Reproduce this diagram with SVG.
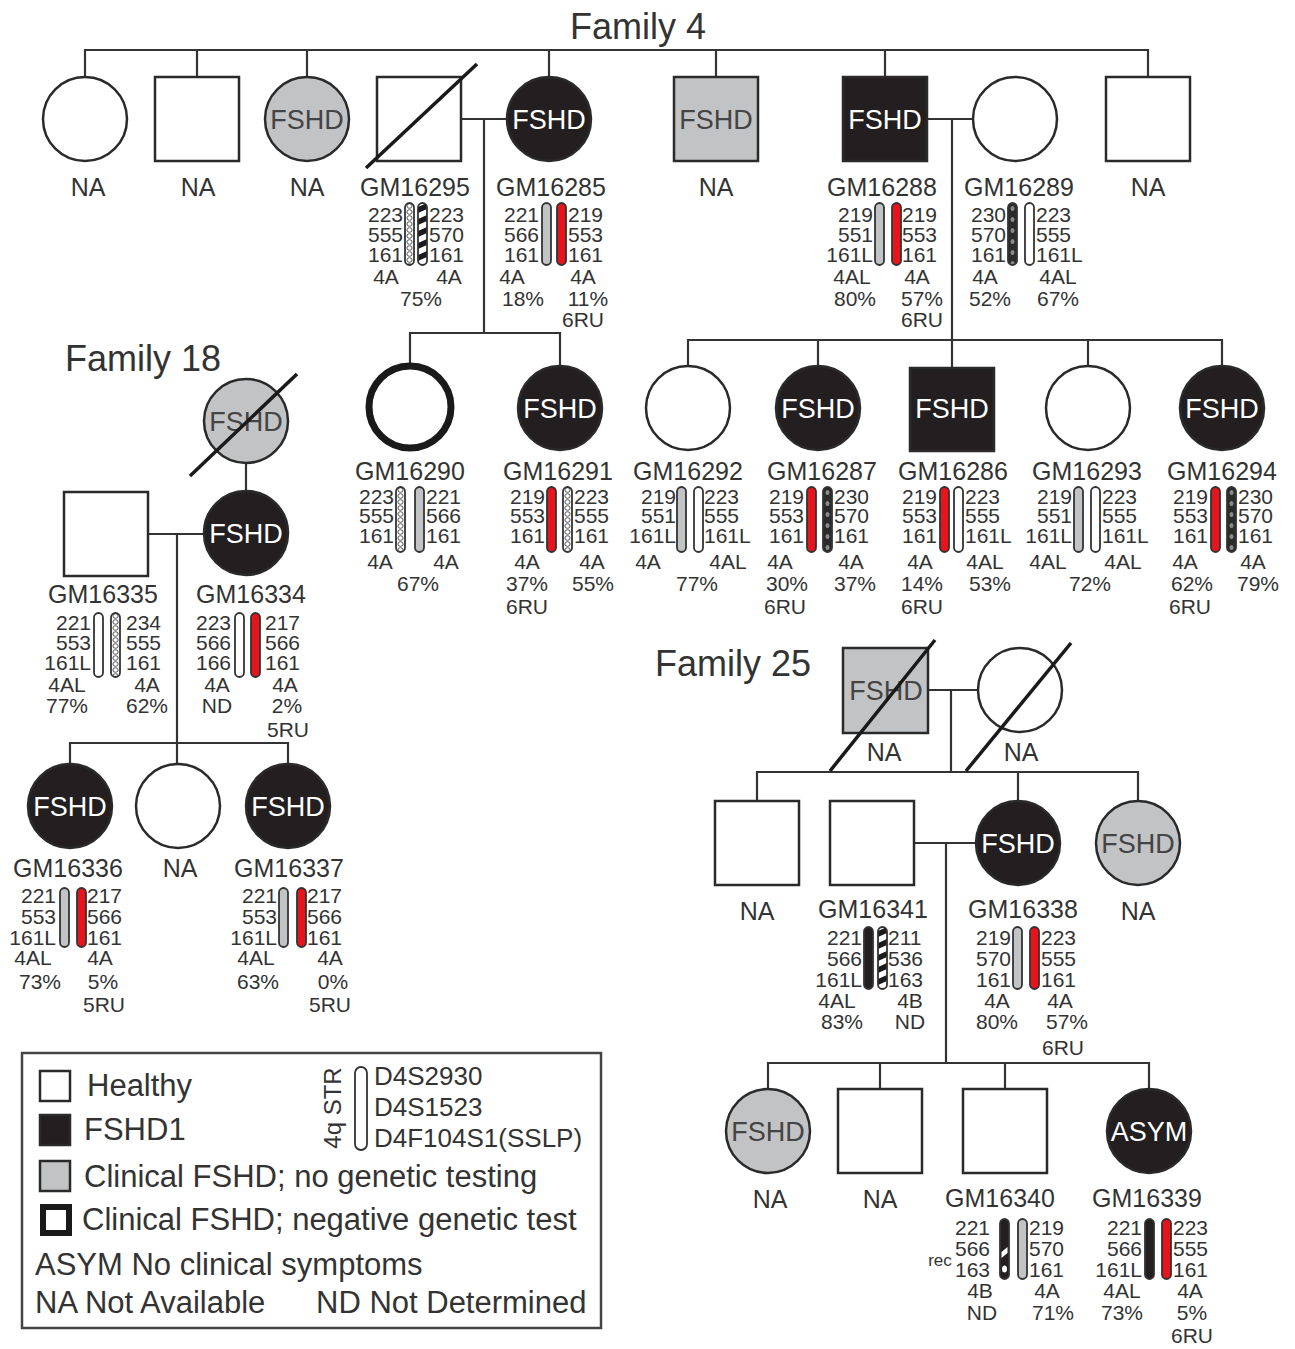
<svg xmlns="http://www.w3.org/2000/svg" width="1295" height="1349" viewBox="0 0 1295 1349">
<style>
.ln{stroke:#333;stroke-width:2.2;fill:none}
.nd{stroke:#2a2a2a;stroke-width:2.5}
.w{fill:#fff}.k{fill:#231f20}.g{fill:#c2c3c5}
.sl{stroke:#1a1a1a;stroke-width:3.5}
.t{font-family:"Liberation Sans",Arial,sans-serif;fill:#333}
.ttl{font-size:36px}
.lab{font-size:25px;text-anchor:middle}
.num{font-size:21px}
.e{text-anchor:end}.s{text-anchor:start}.m{text-anchor:middle}
.in{font-size:27px;text-anchor:middle}
.wt{fill:#fff}.gt{fill:#444}
.bar{stroke:#333;stroke-width:1.8}
.red{fill:#e8141c}
.lg{font-size:31px}
</style>
<defs>
<pattern id="ladder" patternUnits="userSpaceOnUse" width="9" height="6">
<rect width="9" height="6" fill="#fff"/>
<ellipse cx="4.5" cy="3" rx="2.6" ry="2.3" fill="none" stroke="#555" stroke-width="1"/>
</pattern>
<pattern id="dash" patternUnits="userSpaceOnUse" width="9" height="12">
<rect width="9" height="12" fill="#fff"/>
<polygon points="0,4 9,0 9,6 0,10" fill="#1a1a1a"/>
</pattern>
<pattern id="dots" patternUnits="userSpaceOnUse" width="9" height="11">
<rect width="9" height="11" fill="#2b2b2b"/>
<ellipse cx="4.5" cy="5.5" rx="2" ry="2.5" fill="#8a8a8a"/>
</pattern>
</defs>
<rect width="1295" height="1349" fill="#fff"/>

<text class="t ttl" x="638" y="39" text-anchor="middle">Family 4</text>
<text class="t ttl" x="143" y="371" text-anchor="middle">Family 18</text>
<text class="t ttl" x="733" y="676" text-anchor="middle">Family 25</text>

<g id="connectors">
<path class="ln" d="M85,77 V50 H1148 V77 M197,50 V77 M307,50 V77 M549,50 V77 M716,50 V77 M885,50 V77"/>
<path class="ln" d="M461,119 H507 M484,119 V333 M410,365 V333 H560 V366"/>
<path class="ln" d="M927,119 H973 M952,119 V368 M688,366 V340 H1222 V366 M818,340 V366 M1088,340 V366"/>
<path class="ln" d="M246,463 V491 M148,534 H204 M177,534 V764 M70,764 V743 H288 V764"/>
<path class="ln" d="M928,690 H978 M951,690 V772 M757,801 V772 H1138 V801 M1018,772 V801"/>
<path class="ln" d="M914,843 H976 M946,843 V1063 M768,1089 V1063 H1149 V1089 M880,1063 V1089 M1005,1063 V1089"/>
</g>

<!-- Family 4 generation 1 -->
<g id="f4-1">
<circle class="nd w" cx="85" cy="119" r="42"/>
<text class="t lab" x="88" y="196">NA</text>
</g>
<g id="f4-2">
<rect class="nd w" x="155" y="77" width="84" height="84"/>
<text class="t lab" x="198" y="196">NA</text>
</g>
<g id="f4-3">
<circle class="nd g" cx="307" cy="119" r="42"/>
<text class="t in gt" x="307" y="129">FSHD</text>
<text class="t lab" x="307" y="196">NA</text>
</g>
<g id="GM16295">
<rect class="nd w" x="377" y="77" width="84" height="84"/>
<line class="sl" x1="366" y1="168" x2="477" y2="64"/>
<text class="t lab" x="415" y="196">GM16295</text>
<text class="t num e"><tspan x="403" y="222">223</tspan><tspan x="403" y="242">555</tspan><tspan x="403" y="262">161</tspan></text>
<rect class="bar" x="0" y="0" width="9" height="62" rx="4.5" fill="url(#ladder)" transform="translate(405,203)"/>
<rect class="bar" x="0" y="0" width="9" height="62" rx="4.5" fill="url(#dash)" transform="translate(418,203)"/>
<text class="t num s"><tspan x="429" y="222">223</tspan><tspan x="429" y="242">570</tspan><tspan x="429" y="262">161</tspan></text>
<text class="t num m"><tspan x="386" y="284">4A</tspan><tspan x="449" y="284">4A</tspan><tspan x="421" y="306">75%</tspan></text>
</g>
<g id="GM16285">
<circle class="nd k" cx="549" cy="119" r="42"/>
<text class="t in wt" x="549" y="129">FSHD</text>
<text class="t lab" x="551" y="196">GM16285</text>
<text class="t num e"><tspan x="539" y="222">221</tspan><tspan x="539" y="242">566</tspan><tspan x="539" y="262">161</tspan></text>
<rect class="bar g" x="542" y="203" width="9" height="62" rx="4.5"/>
<rect class="bar red" x="557" y="203" width="9" height="62" rx="4.5"/>
<text class="t num s"><tspan x="568" y="222">219</tspan><tspan x="568" y="242">553</tspan><tspan x="568" y="262">161</tspan></text>
<text class="t num m"><tspan x="512" y="284">4A</tspan><tspan x="583" y="284">4A</tspan><tspan x="523" y="306">18%</tspan><tspan x="588" y="306">11%</tspan><tspan x="583" y="327">6RU</tspan></text>
</g>
<g id="f4-6">
<rect class="nd g" x="674" y="77" width="84" height="84"/>
<text class="t in gt" x="716" y="129">FSHD</text>
<text class="t lab" x="716" y="196">NA</text>
</g>
<g id="GM16288">
<rect class="nd k" x="843" y="77" width="84" height="84"/>
<text class="t in wt" x="885" y="129">FSHD</text>
<text class="t lab" x="882" y="196">GM16288</text>
<text class="t num e"><tspan x="873" y="222">219</tspan><tspan x="873" y="242">551</tspan><tspan x="873" y="262">161L</tspan></text>
<rect class="bar g" x="875" y="203" width="9" height="62" rx="4.5"/>
<rect class="bar red" x="892" y="203" width="9" height="62" rx="4.5"/>
<text class="t num s"><tspan x="902" y="222">219</tspan><tspan x="902" y="242">553</tspan><tspan x="902" y="262">161</tspan></text>
<text class="t num m"><tspan x="852" y="284">4AL</tspan><tspan x="917" y="284">4A</tspan><tspan x="855" y="306">80%</tspan><tspan x="922" y="306">57%</tspan><tspan x="922" y="327">6RU</tspan></text>
</g>
<g id="GM16289">
<circle class="nd w" cx="1015" cy="119" r="42"/>
<text class="t lab" x="1019" y="196">GM16289</text>
<text class="t num e"><tspan x="1006" y="222">230</tspan><tspan x="1006" y="242">570</tspan><tspan x="1006" y="262">161</tspan></text>
<rect class="bar" x="0" y="0" width="9" height="62" rx="4.5" fill="url(#dots)" transform="translate(1008,203)"/>
<rect class="bar w" x="1025" y="203" width="9" height="62" rx="4.5"/>
<text class="t num s"><tspan x="1036" y="222">223</tspan><tspan x="1036" y="242">555</tspan><tspan x="1036" y="262">161L</tspan></text>
<text class="t num m"><tspan x="985" y="284">4A</tspan><tspan x="1058" y="284">4AL</tspan><tspan x="990" y="306">52%</tspan><tspan x="1058" y="306">67%</tspan></text>
</g>
<g id="f4-9">
<rect class="nd w" x="1106" y="77" width="84" height="84"/>
<text class="t lab" x="1148" y="196">NA</text>
</g>

<!-- Family 4 generation 2 -->
<g id="GM16290">
<circle cx="410" cy="407" r="41" fill="#fff" stroke="#1a1a1a" stroke-width="7"/>
<text class="t lab" x="410" y="480">GM16290</text>
<text class="t num e"><tspan x="394" y="504">223</tspan><tspan x="394" y="523">555</tspan><tspan x="394" y="543">161</tspan></text>
<rect class="bar" x="0" y="0" width="9" height="65" rx="4.5" fill="url(#ladder)" transform="translate(396,487)"/>
<rect class="bar g" x="415" y="487" width="9" height="65" rx="4.5"/>
<text class="t num s"><tspan x="426" y="504">221</tspan><tspan x="426" y="523">566</tspan><tspan x="426" y="543">161</tspan></text>
<text class="t num m"><tspan x="380" y="569">4A</tspan><tspan x="446" y="569">4A</tspan><tspan x="418" y="591">67%</tspan></text>
</g>
<g id="GM16291">
<circle class="nd k" cx="560" cy="408" r="42"/>
<text class="t in wt" x="560" y="418">FSHD</text>
<text class="t lab" x="558" y="480">GM16291</text>
<text class="t num e"><tspan x="545" y="504">219</tspan><tspan x="545" y="523">553</tspan><tspan x="545" y="543">161</tspan></text>
<rect class="bar red" x="547" y="487" width="9" height="65" rx="4.5"/>
<rect class="bar" x="0" y="0" width="9" height="65" rx="4.5" fill="url(#ladder)" transform="translate(563,487)"/>
<text class="t num s"><tspan x="574" y="504">223</tspan><tspan x="574" y="523">555</tspan><tspan x="574" y="543">161</tspan></text>
<text class="t num m"><tspan x="527" y="569">4A</tspan><tspan x="592" y="569">4A</tspan><tspan x="527" y="591">37%</tspan><tspan x="593" y="591">55%</tspan><tspan x="527" y="614">6RU</tspan></text>
</g>
<g id="GM16292">
<circle class="nd w" cx="688" cy="408" r="42"/>
<text class="t lab" x="688" y="480">GM16292</text>
<text class="t num e"><tspan x="676" y="504">219</tspan><tspan x="676" y="523">551</tspan><tspan x="676" y="543">161L</tspan></text>
<rect class="bar g" x="677" y="487" width="9" height="65" rx="4.5"/>
<rect class="bar w" x="694" y="487" width="9" height="65" rx="4.5"/>
<text class="t num s"><tspan x="704" y="504">223</tspan><tspan x="704" y="523">555</tspan><tspan x="704" y="543">161L</tspan></text>
<text class="t num m"><tspan x="648" y="569">4A</tspan><tspan x="728" y="569">4AL</tspan><tspan x="697" y="591">77%</tspan></text>
</g>
<g id="GM16287">
<circle class="nd k" cx="818" cy="408" r="42"/>
<text class="t in wt" x="818" y="418">FSHD</text>
<text class="t lab" x="822" y="480">GM16287</text>
<text class="t num e"><tspan x="804" y="504">219</tspan><tspan x="804" y="523">553</tspan><tspan x="804" y="543">161</tspan></text>
<rect class="bar red" x="807" y="487" width="9" height="65" rx="4.5"/>
<rect class="bar" x="0" y="0" width="9" height="65" rx="4.5" fill="url(#dots)" transform="translate(823,487)"/>
<text class="t num s"><tspan x="834" y="504">230</tspan><tspan x="834" y="523">570</tspan><tspan x="834" y="543">161</tspan></text>
<text class="t num m"><tspan x="780" y="569">4A</tspan><tspan x="851" y="569">4A</tspan><tspan x="787" y="591">30%</tspan><tspan x="855" y="591">37%</tspan><tspan x="785" y="614">6RU</tspan></text>
</g>
<g id="GM16286">
<rect class="nd k" x="910" y="368" width="84" height="83"/>
<text class="t in wt" x="952" y="418">FSHD</text>
<text class="t lab" x="953" y="480">GM16286</text>
<text class="t num e"><tspan x="937" y="504">219</tspan><tspan x="937" y="523">553</tspan><tspan x="937" y="543">161</tspan></text>
<rect class="bar red" x="940" y="487" width="9" height="65" rx="4.5"/>
<rect class="bar w" x="954" y="487" width="9" height="65" rx="4.5"/>
<text class="t num s"><tspan x="965" y="504">223</tspan><tspan x="965" y="523">555</tspan><tspan x="965" y="543">161L</tspan></text>
<text class="t num m"><tspan x="920" y="569">4A</tspan><tspan x="985" y="569">4AL</tspan><tspan x="922" y="591">14%</tspan><tspan x="990" y="591">53%</tspan><tspan x="922" y="614">6RU</tspan></text>
</g>
<g id="GM16293">
<circle class="nd w" cx="1088" cy="408" r="42"/>
<text class="t lab" x="1087" y="480">GM16293</text>
<text class="t num e"><tspan x="1072" y="504">219</tspan><tspan x="1072" y="523">551</tspan><tspan x="1072" y="543">161L</tspan></text>
<rect class="bar g" x="1074" y="487" width="9" height="65" rx="4.5"/>
<rect class="bar w" x="1091" y="487" width="9" height="65" rx="4.5"/>
<text class="t num s"><tspan x="1102" y="504">223</tspan><tspan x="1102" y="523">555</tspan><tspan x="1102" y="543">161L</tspan></text>
<text class="t num m"><tspan x="1048" y="569">4AL</tspan><tspan x="1123" y="569">4AL</tspan><tspan x="1090" y="591">72%</tspan></text>
</g>
<g id="GM16294">
<circle class="nd k" cx="1222" cy="408" r="42"/>
<text class="t in wt" x="1222" y="418">FSHD</text>
<text class="t lab" x="1222" y="480">GM16294</text>
<text class="t num e"><tspan x="1208" y="504">219</tspan><tspan x="1208" y="523">553</tspan><tspan x="1208" y="543">161</tspan></text>
<rect class="bar red" x="1211" y="487" width="9" height="65" rx="4.5"/>
<rect class="bar" x="0" y="0" width="9" height="65" rx="4.5" fill="url(#dots)" transform="translate(1227,487)"/>
<text class="t num s"><tspan x="1238" y="504">230</tspan><tspan x="1238" y="523">570</tspan><tspan x="1238" y="543">161</tspan></text>
<text class="t num m"><tspan x="1185" y="569">4A</tspan><tspan x="1253" y="569">4A</tspan><tspan x="1192" y="591">62%</tspan><tspan x="1258" y="591">79%</tspan><tspan x="1190" y="614">6RU</tspan></text>
</g>

<!-- Family 18 -->
<g id="f18-1">
<circle class="nd g" cx="246" cy="421" r="42"/>
<text class="t in gt" x="246" y="431">FSHD</text>
<line class="sl" x1="190" y1="476" x2="297" y2="374"/>
</g>
<g id="GM16335">
<rect class="nd w" x="64" y="492" width="84" height="84"/>
<text class="t lab" x="103" y="603">GM16335</text>
<text class="t num e"><tspan x="91" y="630">221</tspan><tspan x="91" y="650">553</tspan><tspan x="91" y="670">161L</tspan></text>
<rect class="bar w" x="94" y="613" width="9" height="64" rx="4.5"/>
<rect class="bar" x="0" y="0" width="9" height="64" rx="4.5" fill="url(#ladder)" transform="translate(111,613)"/>
<text class="t num s"><tspan x="126" y="630">234</tspan><tspan x="126" y="650">555</tspan><tspan x="126" y="670">161</tspan></text>
<text class="t num m"><tspan x="67" y="692">4AL</tspan><tspan x="147" y="692">4A</tspan><tspan x="67" y="713">77%</tspan><tspan x="147" y="713">62%</tspan></text>
</g>
<g id="GM16334">
<circle class="nd k" cx="246" cy="533" r="42"/>
<text class="t in wt" x="246" y="543">FSHD</text>
<text class="t lab" x="251" y="603">GM16334</text>
<text class="t num e"><tspan x="231" y="630">223</tspan><tspan x="231" y="650">566</tspan><tspan x="231" y="670">166</tspan></text>
<rect class="bar w" x="235" y="613" width="9" height="64" rx="4.5"/>
<rect class="bar red" x="251" y="613" width="9" height="64" rx="4.5"/>
<text class="t num s"><tspan x="265" y="630">217</tspan><tspan x="265" y="650">566</tspan><tspan x="265" y="670">161</tspan></text>
<text class="t num m"><tspan x="217" y="692">4A</tspan><tspan x="285" y="692">4A</tspan><tspan x="217" y="713">ND</tspan><tspan x="287" y="713">2%</tspan><tspan x="288" y="737">5RU</tspan></text>
</g>
<g id="GM16336">
<circle class="nd k" cx="70" cy="806" r="42"/>
<text class="t in wt" x="70" y="816">FSHD</text>
<text class="t lab" x="68" y="877">GM16336</text>
<text class="t num e"><tspan x="56" y="903">221</tspan><tspan x="56" y="924">553</tspan><tspan x="56" y="945">161L</tspan></text>
<rect class="bar g" x="60" y="888" width="9" height="59" rx="4.5"/>
<rect class="bar red" x="77" y="888" width="9" height="59" rx="4.5"/>
<text class="t num s"><tspan x="87" y="903">217</tspan><tspan x="87" y="924">566</tspan><tspan x="87" y="945">161</tspan></text>
<text class="t num m"><tspan x="33" y="965">4AL</tspan><tspan x="100" y="965">4A</tspan><tspan x="40" y="989">73%</tspan><tspan x="103" y="989">5%</tspan><tspan x="104" y="1012">5RU</tspan></text>
</g>
<g id="f18-na">
<circle class="nd w" cx="178" cy="806" r="42"/>
<text class="t lab" x="180" y="877">NA</text>
</g>
<g id="GM16337">
<circle class="nd k" cx="288" cy="806" r="42"/>
<text class="t in wt" x="288" y="816">FSHD</text>
<text class="t lab" x="289" y="877">GM16337</text>
<text class="t num e"><tspan x="277" y="903">221</tspan><tspan x="277" y="924">553</tspan><tspan x="277" y="945">161L</tspan></text>
<rect class="bar g" x="279" y="888" width="9" height="59" rx="4.5"/>
<rect class="bar red" x="297" y="888" width="9" height="59" rx="4.5"/>
<text class="t num s"><tspan x="307" y="903">217</tspan><tspan x="307" y="924">566</tspan><tspan x="307" y="945">161</tspan></text>
<text class="t num m"><tspan x="256" y="965">4AL</tspan><tspan x="330" y="965">4A</tspan><tspan x="258" y="989">63%</tspan><tspan x="333" y="989">0%</tspan><tspan x="330" y="1012">5RU</tspan></text>
</g>

<!-- Family 25 -->
<g id="f25-1">
<rect class="nd g" x="843" y="648" width="85" height="85"/>
<text class="t in gt" x="886" y="700">FSHD</text>
<line class="sl" x1="830" y1="771" x2="935" y2="640"/>
<text class="t lab" x="884" y="761">NA</text>
</g>
<g id="f25-2">
<circle class="nd w" cx="1020" cy="690" r="42"/>
<line class="sl" x1="966" y1="771" x2="1071" y2="643"/>
<text class="t lab" x="1021" y="761">NA</text>
</g>
<g id="f25-3">
<rect class="nd w" x="715" y="801" width="84" height="84"/>
<text class="t lab" x="757" y="920">NA</text>
</g>
<g id="GM16341">
<rect class="nd w" x="830" y="801" width="84" height="84"/>
<text class="t lab" x="873" y="918">GM16341</text>
<text class="t num e"><tspan x="862" y="945">221</tspan><tspan x="862" y="966">566</tspan><tspan x="862" y="987">161L</tspan></text>
<rect class="bar k" x="864" y="927" width="9" height="62" rx="4.5"/>
<rect class="bar" x="0" y="0" width="9" height="62" rx="4.5" fill="url(#dash)" transform="translate(878,927)"/>
<text class="t num s"><tspan x="888" y="945">211</tspan><tspan x="888" y="966">536</tspan><tspan x="888" y="987">163</tspan></text>
<text class="t num m"><tspan x="837" y="1008">4AL</tspan><tspan x="910" y="1008">4B</tspan><tspan x="842" y="1029">83%</tspan><tspan x="910" y="1029">ND</tspan></text>
</g>
<g id="GM16338">
<circle class="nd k" cx="1018" cy="843" r="42"/>
<text class="t in wt" x="1018" y="853">FSHD</text>
<text class="t lab" x="1023" y="918">GM16338</text>
<text class="t num e"><tspan x="1011" y="945">219</tspan><tspan x="1011" y="966">570</tspan><tspan x="1011" y="987">161</tspan></text>
<rect class="bar g" x="1013" y="927" width="9" height="62" rx="4.5"/>
<rect class="bar red" x="1030" y="927" width="9" height="62" rx="4.5"/>
<text class="t num s"><tspan x="1041" y="945">223</tspan><tspan x="1041" y="966">555</tspan><tspan x="1041" y="987">161</tspan></text>
<text class="t num m"><tspan x="997" y="1008">4A</tspan><tspan x="1060" y="1008">4A</tspan><tspan x="997" y="1029">80%</tspan><tspan x="1067" y="1029">57%</tspan><tspan x="1063" y="1055">6RU</tspan></text>
</g>
<g id="f25-6">
<circle class="nd g" cx="1138" cy="843" r="42"/>
<text class="t in gt" x="1138" y="853">FSHD</text>
<text class="t lab" x="1138" y="920">NA</text>
</g>
<g id="f25-7">
<circle class="nd g" cx="768" cy="1131" r="42"/>
<text class="t in gt" x="768" y="1141">FSHD</text>
<text class="t lab" x="770" y="1208">NA</text>
</g>
<g id="f25-8">
<rect class="nd w" x="838" y="1089" width="84" height="84"/>
<text class="t lab" x="880" y="1208">NA</text>
</g>
<g id="GM16340">
<rect class="nd w" x="963" y="1089" width="84" height="84"/>
<text class="t lab" x="1000" y="1207">GM16340</text>
<text class="t num e"><tspan x="990" y="1235">221</tspan><tspan x="990" y="1256">566</tspan><tspan x="990" y="1277">163</tspan></text>
<text class="t m" x="940" y="1266" font-size="17">rec</text>
<rect class="bar k" x="1000" y="1219" width="9" height="60" rx="4.5"/>
<polygon points="1.5,33 7.5,28 7.5,34 1.5,39" fill="#fff" transform="translate(1000,1219)"/>
<ellipse cx="1004.5" cy="1269" rx="2.5" ry="3.5" fill="#fff"/>
<rect class="bar g" x="1018" y="1219" width="9" height="60" rx="4.5"/>
<text class="t num s"><tspan x="1029" y="1235">219</tspan><tspan x="1029" y="1256">570</tspan><tspan x="1029" y="1277">161</tspan></text>
<text class="t num m"><tspan x="980" y="1298">4B</tspan><tspan x="1047" y="1298">4A</tspan><tspan x="982" y="1320">ND</tspan><tspan x="1053" y="1320">71%</tspan></text>
</g>
<g id="GM16339">
<circle class="nd k" cx="1149" cy="1131" r="42"/>
<text class="t in wt" x="1149" y="1141">ASYM</text>
<text class="t lab" x="1147" y="1207">GM16339</text>
<text class="t num e"><tspan x="1142" y="1235">221</tspan><tspan x="1142" y="1256">566</tspan><tspan x="1142" y="1277">161L</tspan></text>
<rect class="bar k" x="1145" y="1219" width="9" height="60" rx="4.5"/>
<rect class="bar red" x="1162" y="1219" width="9" height="60" rx="4.5"/>
<text class="t num s"><tspan x="1173" y="1235">223</tspan><tspan x="1173" y="1256">555</tspan><tspan x="1173" y="1277">161</tspan></text>
<text class="t num m"><tspan x="1122" y="1298">4AL</tspan><tspan x="1190" y="1298">4A</tspan><tspan x="1122" y="1320">73%</tspan><tspan x="1192" y="1320">5%</tspan><tspan x="1192" y="1343">6RU</tspan></text>
</g>

<!-- Legend -->
<g id="legend">
<rect x="22" y="1053" width="579" height="275" fill="#fff" stroke="#444" stroke-width="2.5"/>
<rect class="nd w" x="40" y="1071" width="30" height="30"/>
<rect class="nd k" x="40" y="1115" width="30" height="30"/>
<rect class="nd g" x="40" y="1161" width="30" height="30"/>
<rect x="43" y="1207" width="26" height="26" fill="#fff" stroke="#1a1a1a" stroke-width="6"/>
<text class="t lg" x="87" y="1096">Healthy</text>
<text class="t lg" x="84" y="1140">FSHD1</text>
<text class="t lg" x="84" y="1187">Clinical FSHD; no genetic testing</text>
<text class="t lg" x="82" y="1230">Clinical FSHD; negative genetic test</text>
<text class="t lg" x="35" y="1275">ASYM No clinical symptoms</text>
<text class="t lg" x="35" y="1313">NA Not Available</text>
<text class="t lg" x="316" y="1313">ND Not Determined</text>
<text class="t" font-size="24" text-anchor="middle" transform="translate(341,1108) rotate(-90)">4q STR</text>
<rect class="bar w" x="355" y="1067" width="12" height="83" rx="6"/>
<text class="t" font-size="26" x="374" y="1085">D4S2930</text>
<text class="t" font-size="26" x="374" y="1116">D4S1523</text>
<text class="t" font-size="26" x="374" y="1147">D4F104S1(SSLP)</text>
</g>
</svg>
